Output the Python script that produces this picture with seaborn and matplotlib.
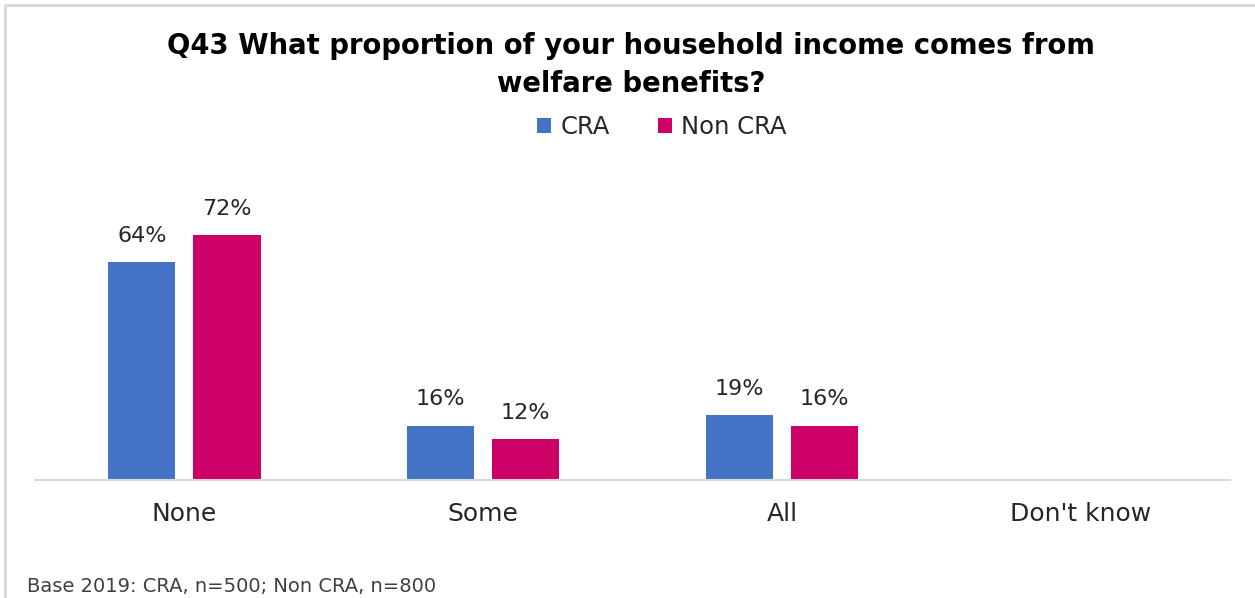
import numpy as np
import pandas as pd
import matplotlib
matplotlib.use("Agg")
import matplotlib.pyplot as plt
from matplotlib.lines import Line2D
from matplotlib.patches import Patch
import seaborn as sns

# Survey answers and shares (%) for each group
categories = ["None", "Some", "All", "Don't know"]
cra_values = [64, 16, 19, np.nan]
non_cra_values = [72, 12, 16, np.nan]
groups = ["CRA", "Non CRA"]

title_text = "Q43 What proportion of your household income comes from\nwelfare benefits?"
base_note = "Base 2019: CRA, n=500; Non CRA, n=800"

colors = {"CRA": "#4472C4", "Non CRA": "#CC0066"}

df = pd.DataFrame({
    "answer": categories * 2,
    "group": [groups[0]] * len(categories) + [groups[1]] * len(categories),
    "share": cra_values + non_cra_values,
})

sns.set_theme(style="white")
plt.rcParams["font.family"] = ["DejaVu Sans"]

W, H = 1255, 598
fig = plt.figure(figsize=(W / 100, H / 100), dpi=100)
ax = fig.add_axes([35 / W, 118 / H, 1195 / W, 272 / H])

sns.barplot(data=df, x="answer", y="share", hue="group", order=categories,
            hue_order=groups, palette=colors, width=0.57, gap=0.21,
            saturation=1, linewidth=0, ax=ax, legend=False)

for cont in ax.containers:
    ax.bar_label(cont, labels=[("" if np.isnan(v) else f"{v:.0f}%") for v in cont.datavalues],
                 padding=12, fontsize=16, color="#262626")

ax.set_xlim(-0.5, 3.5)
ax.set_ylim(0, 80)
ax.set_xlabel("")
ax.set_ylabel("")
ax.set_yticks([])
for side in ["top", "right", "left"]:
    ax.spines[side].set_visible(False)
ax.spines["bottom"].set_color("#D9D9D9")
ax.spines["bottom"].set_linewidth(1.5)
ax.tick_params(axis="x", length=0, pad=16, labelsize=18, labelcolor="#262626")

fig.text(631 / W, 1 - 65 / H, title_text, ha="center", va="center",
         fontsize=19.8, fontweight="bold", color="black", linespacing=1.45)

handles = [Patch(facecolor=colors[g], edgecolor="none", label=g) for g in groups]
fig.legend(handles=handles, loc="center", bbox_to_anchor=(662 / W, 1 - 127 / H),
           ncol=2, frameon=False, fontsize=17.5, handlelength=0.55, handleheight=0.55,
           handletextpad=0.4, columnspacing=2.0, labelcolor="#262626")

fig.text(27 / W, 1 - 586 / H, base_note, ha="left", va="center",
         fontsize=14, color="#404040")

# light frame along the top and left edges
fig.add_artist(Line2D([5 / W, 1], [1 - 5 / H, 1 - 5 / H], color="#D9D9D9", lw=2,
                      transform=fig.transFigure))
fig.add_artist(Line2D([5 / W, 5 / W], [0, 1 - 5 / H], color="#D9D9D9", lw=2,
                      transform=fig.transFigure))

fig.savefig("out.png", dpi=100, facecolor="white")
